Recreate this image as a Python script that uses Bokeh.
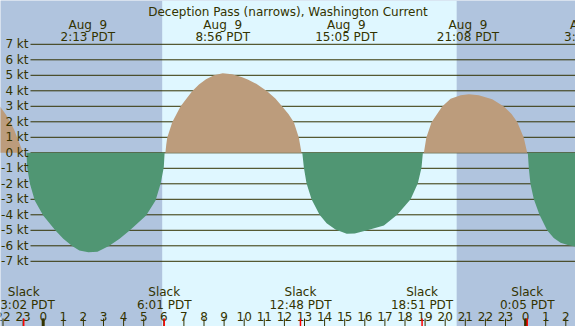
import numpy as np
from bokeh.plotting import figure
from bokeh.models import Range1d, BoxAnnotation, ColumnDataSource
from bokeh.core.properties import value
from bokeh.embed import file_html
from bokeh.resources import INLINE

TITLE = "Deception Pass (narrows), Washington Current"

# Tidal current, hours since Aug 9 00:00 PDT, knots
hours = [-2.6, -2.12, -1.85, -1.63, -1.45, -1.29, -1.0,
         -0.83, -0.80, -0.66, -0.42, 0.0, 0.61, 1.0, 1.44, 1.8, 2.25, 2.7,
         3.27, 3.8, 4.3, 5.12, 5.59, 5.84, 6.0, 6.04,
         6.08, 6.12, 6.17, 6.42, 6.83, 7.41, 7.75, 8.1, 8.5, 8.93, 9.4, 9.9,
         10.2, 10.6, 11.14, 11.55, 11.89, 12.2, 12.47, 12.72, 12.85,
         12.89, 12.97, 13.1, 13.35, 13.75, 14.1, 14.54, 15.1, 15.5, 16.12,
         16.95, 17.61, 18.28, 18.64, 18.82, 18.89,
         18.94, 19.06, 19.32, 19.85, 20.27, 20.77, 21.18, 21.67, 22.34, 22.92,
         23.3, 23.59, 23.91, 24.08,
         24.11, 24.16, 24.24, 24.41, 24.69, 25.07, 25.4, 25.74, 26.1, 26.48,
         27.1]
knots = [3.55, 2.94, 2.45, 1.97, 1.5, 0.97, 0.0,
         0.0, -0.93, -2.0, -3.08, -4.05, -5.01, -5.55, -6.02, -6.3, -6.42, -6.38,
         -6.02, -5.55, -5.01, -4.05, -3.08, -2.0, -0.93, 0.0,
         0.0, 0.5, 0.97, 1.97, 2.99, 3.97, 4.4, 4.75, 5.0, 5.13, 5.07, 4.88,
         4.72, 4.45, 3.97, 3.5, 2.99, 2.5, 1.97, 0.97, 0.0,
         0.0, -0.97, -1.97, -2.99, -4.0, -4.55, -4.95, -5.23, -5.2, -4.99,
         -4.69, -4.0, -2.99, -1.97, -0.97, 0.0,
         0.0, 0.97, 1.97, 2.99, 3.48, 3.72, 3.77, 3.71, 3.45, 2.99,
         2.5, 1.97, 0.97, 0.0,
         0.0, -1.0, -2.0, -3.0, -4.0, -5.0, -5.5, -5.8, -5.95, -6.05,
         -6.15]

max_hours = [2.22, 8.93, 15.08, 21.13, 27.27]
max_dates = ["Aug \u00a09", "Aug \u00a09", "Aug \u00a09", "Aug \u00a09", "Aug 10"]
max_times = ["2:13 PDT", "8:56 PDT", "15:05 PDT", "21:08 PDT", "3:16 PDT"]

slack_hours = [-0.97, 6.02, 12.80, 18.85, 24.08]
slack_words = ["Slack", "Slack", "Slack", "Slack", "Slack"]
slack_times = ["23:02 PDT", "6:01 PDT", "12:48 PDT", "18:51 PDT", "0:05 PDT"]

tick_hours = [-2, -1, 0, 1, 2, 3, 4, 5, 6, 7, 8, 9, 10, 11, 12, 13, 14,
              15, 16, 17, 18, 19, 20, 21, 22, 23, 24, 25, 26]
tick_labels = ["22", "23", "0", "1", "2", "3", "4", "5", "6", "7", "8", "9",
               "10", "11", "12", "13", "14", "15", "16", "17", "18", "19",
               "20", "21", "22", "23", "0", "1", "2"]
midnight_hours = [0, 24]

kt_levels = [7, 6, 5, 4, 3, 2, 1, 0, -1, -2, -3, -4, -5, -6, -7]
kt_labels = ["7 kt", "6 kt", "5 kt", "4 kt", "3 kt", "2 kt", "1 kt", "0 kt",
             "-1 kt", "-2 kt", "-3 kt", "-4 kt", "-5 kt", "-6 kt", "-7 kt"]

sunrise = 5.92
sunset = 20.57

# ---- layout (reference pixel geometry) ----
W, H = 575, 326
PX_HOUR, X_ZERO = 20.1, 42.7
PX_KT, Y_ZERO = 15.5, 152.3
X0 = -X_ZERO / PX_HOUR
X1 = (W - X_ZERO) / PX_HOUR
Y1 = Y_ZERO / PX_KT
Y0 = -(H - Y_ZERO) / PX_KT


def xr(px):
    return X0 + px / PX_HOUR


def yr(py):
    return Y1 - py / PX_KT


NIGHT = "#B0C4DE"
DAY = "#DFF7FF"
FLOOD = "#BC9C7C"
EBB = "#509673"
INK = "#333300"
FONT = value("DejaVu Sans")
FS = "12px"

p = figure(width=W, height=H, x_range=Range1d(X0, X1), y_range=Range1d(Y0, Y1),
           output_backend="svg", toolbar_location=None, min_border=0,
           x_axis_location=None, y_axis_location=None,
           background_fill_color=NIGHT, border_fill_color=NIGHT,
           outline_line_color=None)
p.grid.visible = False

p.add_layout(BoxAnnotation(left=sunrise, right=sunset, fill_color=DAY,
                           fill_alpha=1, line_color=None, level="underlay"))

# horizontal knot lines
n = len(kt_levels)
p.segment(x0=[xr(30)] * n, x1=[X1] * n, y0=kt_levels, y1=kt_levels,
          line_color=INK, line_width=1)

k = np.array(knots)
src = ColumnDataSource(dict(h=hours, pos=np.maximum(k, 0), neg=np.minimum(k, 0)))
p.varea(x="h", y1=0, y2="pos", source=src, fill_color=FLOOD)
p.varea(x="h", y1=0, y2="neg", source=src, fill_color=EBB)

txt = dict(text_font=FONT, text_font_size=FS, text_color=INK)

# knot labels
p.text(x=[xr(28)] * n, y=kt_levels, text=kt_labels, text_align="right",
       text_baseline="middle", **txt)

# title
p.text(x=[(X0 + X1) / 2], y=[yr(11.3)], text=[TITLE], text_align="center",
       text_baseline="alphabetic", **txt)

# max current labels
m = len(max_hours)
p.text(x=max_hours, y=[yr(24)] * m, text=max_dates, text_align="center",
       text_baseline="alphabetic", **txt)
p.text(x=max_hours, y=[yr(36)] * m, text=max_times, text_align="center",
       text_baseline="alphabetic", **txt)

# slack labels
s = len(slack_hours)
p.text(x=slack_hours, y=[yr(291.7)] * s, text=slack_words, text_align="center",
       text_baseline="alphabetic", **txt)
p.text(x=slack_hours, y=[yr(304)] * s, text=slack_times, text_align="center",
       text_baseline="alphabetic", **txt)

# hour labels and ticks
t = len(tick_hours)
p.text(x=tick_hours, y=[yr(315.7)] * t, text=tick_labels, text_align="center",
       text_baseline="alphabetic", **txt)
p.segment(x0=tick_hours, x1=tick_hours, y0=[Y0] * t, y1=[yr(318)] * t,
          line_color=INK, line_width=1)
p.segment(x0=midnight_hours, x1=midnight_hours, y0=[Y0] * 2, y1=[yr(318)] * 2,
          line_color=INK, line_width=3)
p.segment(x0=slack_hours, x1=slack_hours, y0=[Y0] * s, y1=[yr(318)] * s,
          line_color="#FF0000", line_width=1.5)

open("out.html", "w").write(file_html(p, INLINE))
